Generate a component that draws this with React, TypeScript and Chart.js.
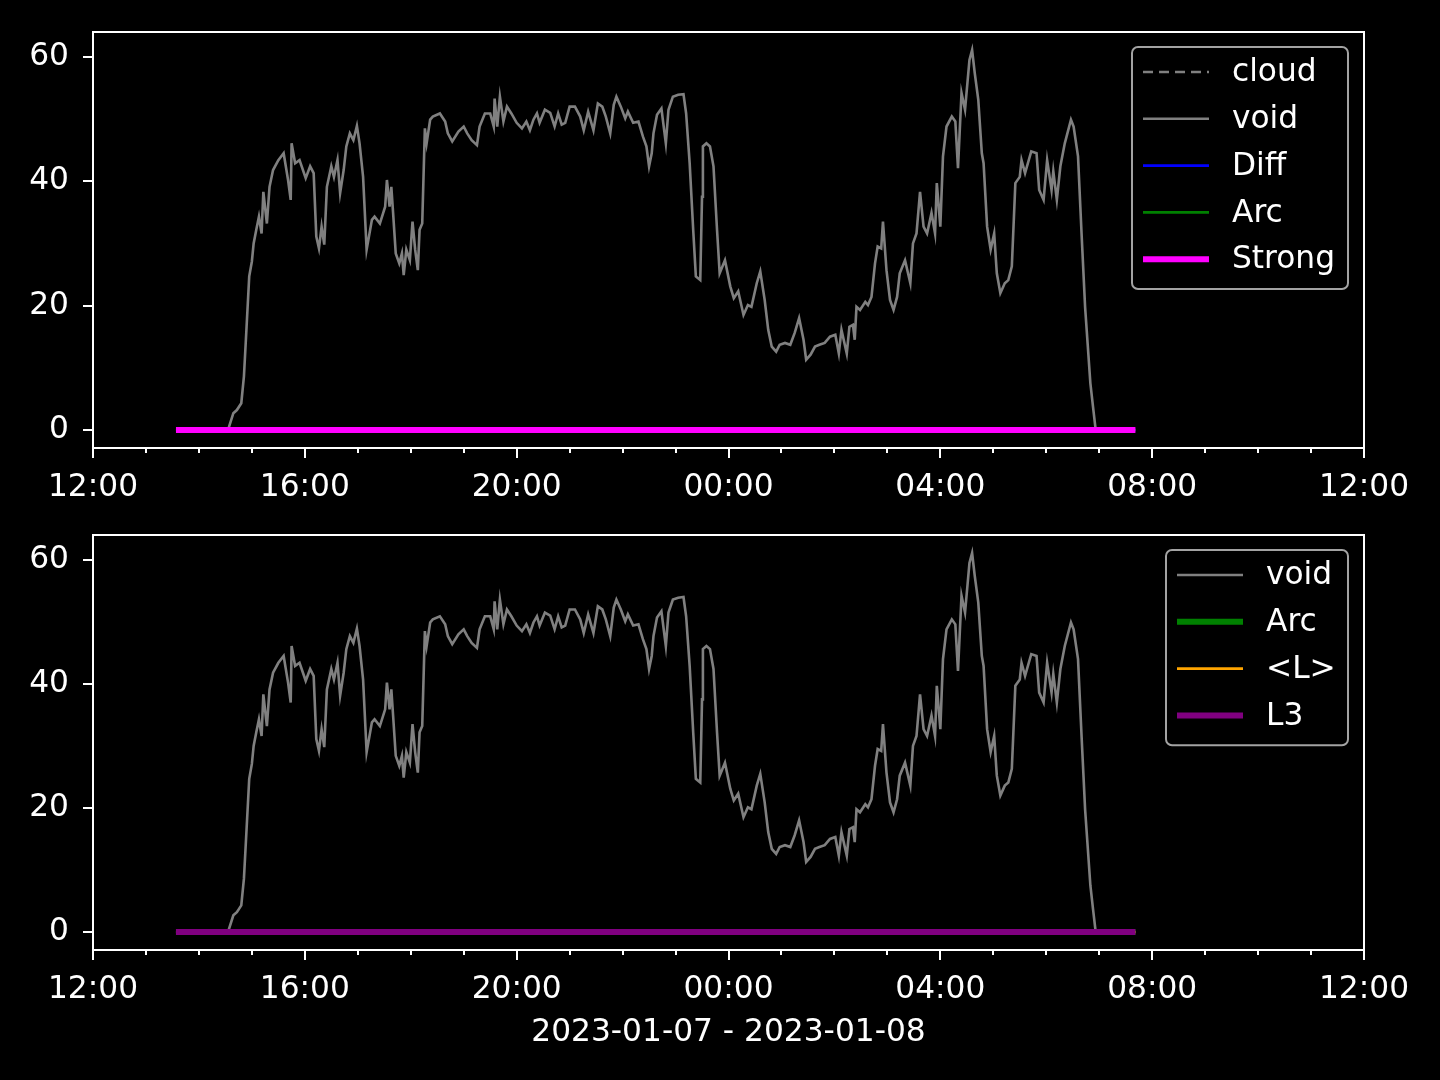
import React, { useEffect, useRef } from 'react';
import { Chart, registerables } from 'chart.js';

Chart.register(...registerables);

const FONT = '"DejaVu Sans", "Liberation Sans", sans-serif';
const FS = 31.25;

// x axis: minutes since 2023-01-07 12:00
const xTickMinutes = [0, 240, 480, 720, 960, 1200, 1440];
const xTickLabels = ['12:00', '16:00', '20:00', '00:00', '04:00', '08:00', '12:00'];
const yTickValues = [0, 20, 40, 60];
const xLabel = '2023-01-07 - 2023-01-08';

// flat series (Diff, Arc, Strong, <L>, L3) span
const flatTimes = [94, 1181];
const flatValues = [0, 0];

const cloudTimes: number[] = [];
const cloudValues: number[] = [];

const voidTimes = [
  94, 153, 159, 163, 168, 171, 174, 177, 180, 182, 185, 188, 191, 193, 197, 200, 204, 210, 216, 221,
  224, 225, 229, 234, 241, 246, 250, 253, 256, 259, 262, 265, 270, 273, 277, 280, 284, 287, 291, 295,
  299, 302, 306, 310, 316, 319, 325, 331, 333, 336, 338, 340, 343, 347, 350, 352, 355, 359, 362, 365,
  368, 370, 373, 376, 378, 382, 385, 393, 399, 402, 407, 414, 420, 424, 429, 435, 438, 444, 450, 454,
  455, 458, 461, 465, 469, 474, 480, 486, 491, 495, 499, 503, 506, 512, 518, 523, 527, 531, 535, 540,
  546, 552, 556, 561, 567, 572, 577, 581, 586, 590, 593, 598, 603, 606, 612, 618, 623, 627, 630, 633,
  635, 639, 644, 649, 652, 657, 663, 669, 672, 676, 680, 683, 688, 690, 691, 695, 699, 703, 707, 710,
  716, 722, 726, 731, 737, 742, 746, 752, 756, 761, 765, 769, 774, 778, 784, 790, 795, 800, 805, 808,
  813, 818, 823, 829, 835, 841, 845, 848, 854, 857, 861, 863, 865, 869, 875, 878, 882, 886, 889, 893,
  895, 899, 903, 907, 911, 914, 920, 926, 929, 933, 937, 941, 945, 950, 954, 956, 960, 963, 967, 973,
  977, 980, 984, 988, 993, 996, 999, 1003, 1007, 1009, 1013, 1017, 1021, 1024, 1028, 1033, 1037, 1041, 1045, 1050,
  1052, 1056, 1063, 1069, 1072, 1077, 1081, 1086, 1088, 1092, 1096, 1101, 1108, 1111, 1116, 1120, 1124, 1130, 1133, 1136,
  1181,
];
const voidValues = [
  0, 0, 2.7, 3.2, 4.3, 8.6, 16.6, 24.7, 27.1, 30, 32.2, 34.3, 31.6, 38.3, 33.2, 39.1, 41.8, 43.4, 44.5, 40.2,
  37, 46.1, 42.9, 43.4, 40.5, 42.4, 41.3, 31.1, 29.2, 32.7, 29.8, 39.1, 42.4, 40.7, 43.4, 38.1, 41.8, 45.6, 47.7, 46.6,
  48.9, 46.1, 40.7, 29, 33.8, 34.3, 33.2, 35.9, 40.2, 35.9, 39.1, 34.9, 28.4, 26.8, 28.4, 24.9, 29, 27.3, 33.5, 29,
  25.7, 32.2, 33.2, 48.5, 46.1, 49.9, 50.4, 50.9, 49.6, 47.7, 46.4, 48, 48.8, 47.7, 46.6, 45.8, 48.8, 50.9, 50.9, 48.8,
  53.3, 48.8, 53.6, 49.6, 52, 50.9, 49.4, 48.5, 49.6, 48.2, 49.9, 50.9, 49.4, 51.5, 51, 48.8, 50.9, 49.1, 49.4, 52,
  52, 50.4, 48.2, 51.2, 48.2, 52.5, 52, 50.4, 47.7, 52.3, 53.6, 52, 50.1, 51.2, 49.4, 49.6, 47.2, 45.6, 42.4, 44.5,
  47.7, 50.7, 51.7, 46.1, 51.5, 53.6, 53.9, 54, 50.9, 42.9, 32.2, 24.7, 24.1, 37.5, 45.6, 46.1, 45.6, 42.4, 32.2, 25.2,
  27.3, 23.1, 21.2, 22.3, 18.5, 20.1, 19.8, 23.6, 25.5, 20.9, 16.1, 13.4, 12.6, 13.7, 14, 13.7, 15.6, 18, 14.5, 11.3,
  12.1, 13.4, 13.7, 14, 15, 15.3, 12.3, 16.1, 12.3, 16.6, 16.9, 14.5, 19.8, 19.3, 20.6, 20.1, 21.4, 26.8, 29.5, 29.2,
  33.5, 25.7, 20.9, 19.3, 21.4, 25.2, 27.3, 23.6, 30, 31.6, 38.3, 32.7, 31.6, 34.9, 31.6, 39.7, 32.7, 44, 48.8, 50.4,
  49.6, 42.1, 54.2, 51.5, 59.5, 61.1, 57.4, 53.1, 44.5, 42.9, 32.7, 29, 31.6, 25.2, 22, 23.6, 24.1, 26.3, 39.7, 40.7,
  43.4, 41.3, 44.8, 44.5, 38.6, 37, 43.4, 38.6, 41.6, 37, 42.4, 46.1, 49.9, 48.8, 44, 31.6, 19.8, 7.5, 3.7, 0,
  0,
];

const pts = (xs: number[], ys: number[]) => xs.map((x, i) => ({ x, y: ys[i] }));

const mplPlugin = {
  id: 'mpl',
  afterDraw(chart: any, _args: any, opts: any) {
    const { ctx, chartArea: a, scales } = chart;
    const xs = scales.x;
    const ys = scales.y;
    ctx.save();
    ctx.strokeStyle = '#ffffff';
    ctx.lineWidth = 2;
    ctx.strokeRect(a.left, a.top, a.right - a.left, a.bottom - a.top);
    ctx.beginPath();
    for (const m of xTickMinutes) {
      const px = Math.round(xs.getPixelForValue(m));
      ctx.moveTo(px, a.bottom);
      ctx.lineTo(px, a.bottom + 10);
    }
    for (let m = 0; m <= 1440; m += 60) {
      if (m % 240 === 0) continue;
      const px = Math.round(xs.getPixelForValue(m));
      ctx.moveTo(px, a.bottom);
      ctx.lineTo(px, a.bottom + 5);
    }
    for (const v of yTickValues) {
      const py = Math.round(ys.getPixelForValue(v));
      ctx.moveTo(a.left - 10, py);
      ctx.lineTo(a.left, py);
    }
    ctx.stroke();

    // legend
    const ds = chart.data.datasets;
    const w = opts.width;
    const rowH = 46.8;
    const h = 8 + ds.length * rowH;
    const left = a.right - 16 - w;
    const top = a.top + 15;
    ctx.beginPath();
    ctx.roundRect(left, top, w, h, 6);
    ctx.fillStyle = '#000000';
    ctx.fill();
    ctx.lineWidth = 2;
    ctx.strokeStyle = '#a3a3a3';
    ctx.stroke();
    ctx.font = `${FS}px ${FONT}`;
    ctx.textBaseline = 'middle';
    ctx.textAlign = 'left';
    ds.forEach((d: any, i: number) => {
      const cy = top + 25 + i * rowH;
      ctx.beginPath();
      ctx.setLineDash(d.borderDash || []);
      ctx.strokeStyle = d.borderColor;
      ctx.lineWidth = d.borderWidth;
      ctx.moveTo(left + 11, cy);
      ctx.lineTo(left + 77, cy);
      ctx.stroke();
      ctx.setLineDash([]);
      ctx.fillStyle = '#ffffff';
      ctx.fillText(d.label, left + 100, cy + 1);
    });
    ctx.restore();
  },
};

type PanelProps = {
  top: number;
  height: number;
  padTop: number;
  xAxisHeight: number;
  datasets: any[];
  legendWidth: number;
  showTitle: boolean;
};

function Panel({ top, height, padTop, xAxisHeight, datasets, legendWidth, showTitle }: PanelProps) {
  const ref = useRef<HTMLCanvasElement>(null);
  useEffect(() => {
    if (!ref.current) return;
    const chart = new Chart(ref.current, {
      type: 'line',
      data: { datasets },
      plugins: [mplPlugin],
      options: {
        animation: false,
        responsive: false,
        devicePixelRatio: 1,
        layout: { padding: { left: 0, right: 76, top: padTop, bottom: 0 } },
        elements: { point: { radius: 0 }, line: { tension: 0 } },
        plugins: {
          legend: { display: false },
          tooltip: { enabled: false },
          mpl: { width: legendWidth },
        } as any,
        scales: {
          x: {
            type: 'linear',
            min: 0,
            max: 1440,
            grid: { display: false, drawTicks: false },
            border: { display: false },
            afterFit: (s: any) => {
              s.height = xAxisHeight;
              s.paddingLeft = 0;
              s.paddingRight = 0;
              s.paddingTop = 0;
              s.paddingBottom = 0;
            },
            afterBuildTicks: (s: any) => {
              s.ticks = xTickMinutes.map((v) => ({ value: v }));
            },
            ticks: {
              autoSkip: false,
              maxRotation: 0,
              minRotation: 0,
              padding: 21,
              color: '#ffffff',
              font: { family: FONT, size: FS },
              callback: (v: any) => xTickLabels[xTickMinutes.indexOf(Number(v))],
            },
            title: {
              display: showTitle,
              text: xLabel,
              color: '#ffffff',
              font: { family: FONT, size: FS },
              padding: { top: 0, bottom: 28 },
            },
          },
          y: {
            type: 'linear',
            min: -2.9,
            max: 64.0,
            grid: { display: false, drawTicks: false },
            border: { display: false },
            afterFit: (s: any) => {
              s.width = 93;
              s.paddingLeft = 0;
              s.paddingRight = 0;
              s.paddingTop = 0;
              s.paddingBottom = 0;
            },
            afterBuildTicks: (s: any) => {
              s.ticks = yTickValues.map((v) => ({ value: v }));
            },
            ticks: {
              padding: 24,
              color: '#ffffff',
              font: { family: FONT, size: FS },
              callback: (v: any) => String(v),
            },
          },
        },
      },
    });
    return () => chart.destroy();
  }, []);
  return (
    <canvas
      ref={ref}
      width={1440}
      height={height}
      style={{ position: 'absolute', left: 0, top, width: 1440, height, display: 'block' }}
    />
  );
}

export default function App() {
  const topDatasets = [
    { label: 'cloud', data: pts(cloudTimes, cloudValues), borderColor: '#808080', borderWidth: 2.5, borderDash: [10, 6], order: 5 },
    { label: 'void', data: pts(voidTimes, voidValues), borderColor: '#808080', borderWidth: 2.6, order: 4 },
    { label: 'Diff', data: pts(flatTimes, flatValues), borderColor: '#0000ff', borderWidth: 2.6, order: 3 },
    { label: 'Arc', data: pts(flatTimes, flatValues), borderColor: '#008000', borderWidth: 2.6, order: 2 },
    { label: 'Strong', data: pts(flatTimes, flatValues), borderColor: '#ff00ff', borderWidth: 6, order: 1 },
  ];
  const bottomDatasets = [
    { label: 'void', data: pts(voidTimes, voidValues), borderColor: '#808080', borderWidth: 2.6, order: 4 },
    { label: 'Arc', data: pts(flatTimes, flatValues), borderColor: '#008000', borderWidth: 6, order: 3 },
    { label: '<L>', data: pts(flatTimes, flatValues), borderColor: '#ffa500', borderWidth: 2.6, order: 2 },
    { label: 'L3', data: pts(flatTimes, flatValues), borderColor: '#800080', borderWidth: 6, order: 1 },
  ];
  return (
    <div style={{ position: 'fixed', left: 0, top: 0, width: 1440, height: 1080, background: '#000000', overflow: 'hidden' }}>
      <Panel top={0} height={510} padTop={32} xAxisHeight={62} datasets={topDatasets} legendWidth={216} showTitle={false} />
      <Panel top={510} height={570} padTop={25} xAxisHeight={130} datasets={bottomDatasets} legendWidth={182} showTitle={true} />
    </div>
  );
}
